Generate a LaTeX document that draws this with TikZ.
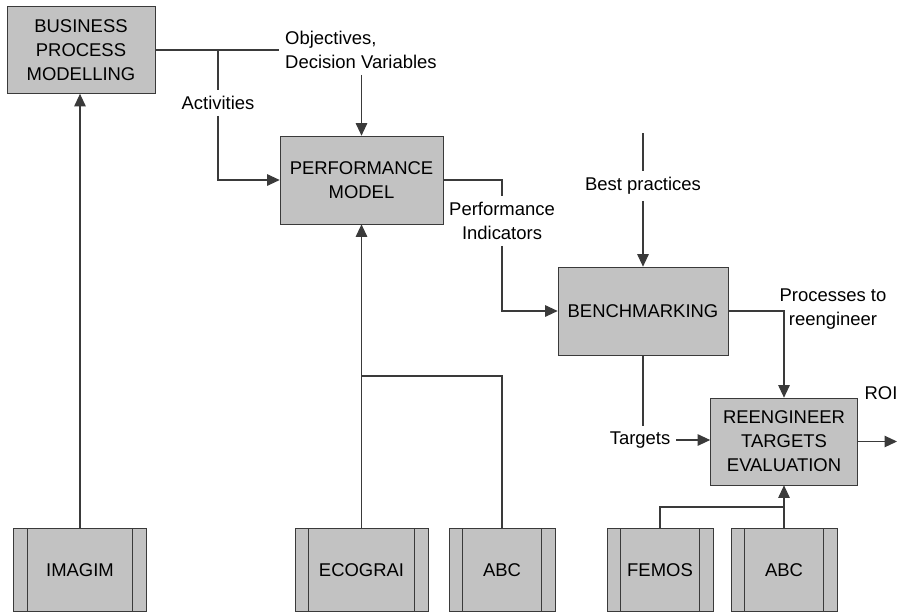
\documentclass[tikz,border=0pt]{standalone}
\usepackage{fontspec}
\setmainfont{Liberation Sans}
\usetikzlibrary{arrows.meta,positioning,calc}
\definecolor{BoxGray}{HTML}{C2C2C2}
\definecolor{LineGray}{HTML}{3A3A3A}

\begin{document}
\begin{tikzpicture}[x=0.02cm, y=-0.02cm, every node/.style={font=\fontsize{10.5}{13.6}\selectfont, align=center},
  procbox/.style={draw=LineGray, fill=BoxGray, inner sep=0pt},
  toolbox/.style={procbox, minimum height=1.66cm},
  flow/.style={draw=LineGray, line width=0.6pt},
  arr/.style={flow, -{Triangle[length=2.5mm, width=2.3mm]}}]
\useasboundingbox (0,0) rectangle (909,613);
% process boxes
\node[procbox, minimum width=2.96cm, minimum height=1.74cm] (bpm) at (81,50) {BUSINESS\\PROCESS\\MODELLING};
\node[procbox, minimum width=3.26cm, minimum height=1.76cm] (pm) at (361.5,180) {PERFORMANCE\\MODEL};
\node[procbox, minimum width=3.40cm, minimum height=1.76cm] (bm) at (643,311) {BENCHMARKING};
\node[procbox, minimum width=2.94cm, minimum height=1.74cm] (rte) at (784,441.5) {REENGINEER\\TARGETS\\EVALUATION};
% tools
\foreach \name/\label/\x/\w in {imagim/IMAGIM/80/2.66,ecograi/ECOGRAI/361.5/2.66,abcp/ABC/502/2.12,femos/FEMOS/660/2.12,abcr/ABC/784/2.12}{
  \node[toolbox, minimum width=\w cm] (\name) at (\x,570) {\label};
  \draw[LineGray] ($(\name.north west)+(14,0)$) -- ($(\name.south west)+(14,0)$);
  \draw[LineGray] ($(\name.north east)+(-14,0)$) -- ($(\name.south east)+(-14,0)$);
}
% labels
\node[anchor=west, align=left] (obj) at (279,50) {Objectives,\\Decision Variables};
\node (act) at (218,103) {Activities};
\node (pi) at (502,221) {Performance\\Indicators};
\node (bp) at (643,186) {Best practices};
\node (pr) at (833,309) {Processes to\\reengineer};
\node (tg) at (640,440) {Targets};
\node (roi) at (881,393) {ROI};
\coordinate (actjoin) at (218,50);
\coordinate (bptop) at (643,133);
\coordinate (roiend) at (897,441.5);
\coordinate (abcjoin) at (361.5,376);
\coordinate (femosjoin) at (784,507);
% connectors
\draw[flow] (bpm.east) -- (bpm.east -| obj.west);
\draw[arr] (obj.south -| pm.north) -- (pm.north);
\draw[flow] (actjoin) -- (act);
\draw[arr] (act) |- (pm);
\draw[flow] (pm.east) -| (pi);
\draw[arr] (pi) |- (bm);
\draw[flow] (bptop) -- (bp);
\draw[arr] (bp) -- (bm);
\draw[arr] (bm.east) -| (rte.north);
\draw[flow] (bm.south) -- (bm.south |- tg.north);
\draw[arr] (tg.east) -- (tg.east -| rte.west);
\draw[arr] (rte.east) -- (roiend);
\draw[arr] (imagim.north) -- (imagim.north |- bpm.south);
\draw[arr] (ecograi) -- (pm);
\draw[flow] (abcp) |- (abcjoin);
\draw[arr] (abcr) -- (rte);
\draw[flow] (femos) |- (femosjoin);
\end{tikzpicture}
\end{document}
